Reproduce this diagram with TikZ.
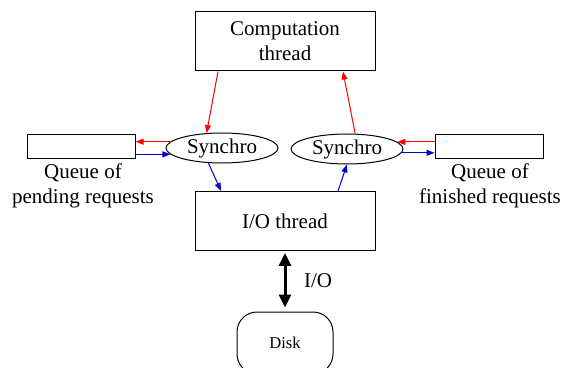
\documentclass[tikz,border=0pt]{standalone}
\usepackage{fontspec}
\setmainfont{Liberation Serif}
\usetikzlibrary{arrows.meta,shapes.geometric}
\definecolor{mblue}{RGB}{0,0,205}
\begin{document}
\begin{tikzpicture}[x=0.5pt,y=-0.5pt,
    font=\fontsize{10.5}{12.5}\selectfont,
    thread/.style={draw,line width=0.5pt,minimum width=90pt,minimum height=29.5pt,align=center,inner sep=0pt},
    queue/.style={draw,line width=0.5pt,minimum width=54pt,minimum height=12pt,inner sep=0pt},
    sync/.style={draw,ellipse,line width=0.5pt,minimum width=56pt,minimum height=15pt,inner sep=0pt},
    disk/.style={draw,line width=0.5pt,rounded corners=10pt,minimum width=48pt,minimum height=31pt,
      font=\fontsize{8.3}{10}\selectfont},
    lbl/.style={align=center,inner sep=0pt},
    link/.style={line width=0.5pt,-{Triangle[length=4pt,width=3pt]}}]
  \useasboundingbox (0,0) rectangle (566,368);
  \draw
    (285,41.5) node[thread] (comp){Computation\\thread}
    (285,221) node[thread] (io){I/O thread}
    (285,343) node[disk] (disk){Disk}
    (222,148) node[sync] (synL){Synchro}
    (347,149) node[sync] (synR){Synchro}
    (81,147) node[queue] (queueP){}
    (489,147) node[queue] (queueF){}
    (83,186) node[lbl] (lblP){Queue of\\pending requests}
    (490,186) node[lbl] (lblF){Queue of\\finished requests}
    (318,281) node[lbl] (lblIO){I/O};
  \begin{scope}[link,red]
    \draw ([xshift=-33.5pt]comp.south) to (synL.136);
    \draw (synR.62) to ([xshift=29pt]comp.south);
    \draw (synL.173) to (synL.173 -| queueP.east);
    \draw (synR.8 -| queueF.west) to (synR.8);
  \end{scope}
  \begin{scope}[link,mblue]
    \draw (synL.-132) to ([xshift=-32pt]io.north);
    \draw ([xshift=26.5pt]io.north) to (synR.south);
    \draw (synL.187 -| queueP.east) to (synL.187);
    \draw (synR.-4) to (synR.-4 -| queueF.west);
  \end{scope}
  \draw[line width=1.5pt,{Triangle[length=6.5pt,width=6pt]}-{Triangle[length=6.5pt,width=6pt]},
    shorten <=1pt,shorten >=2pt] (io.south) to (disk.north);
\end{tikzpicture}
\end{document}
